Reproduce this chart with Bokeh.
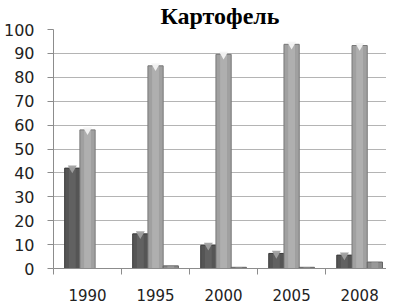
from bokeh.plotting import figure
from bokeh.models import Range1d, FixedTicker, ColumnDataSource
from bokeh.embed import file_html
from bokeh.resources import INLINE

title = "Картофель"
years = ["1990", "1995", "2000", "2005", "2008"]
series_a = [42, 14.5, 9.7, 6.3, 5.6]
series_b = [58, 84.8, 89.6, 93.8, 93.3]
series_c = [0, 1.1, 0.5, 0.5, 2.7]
y_ticks = [0, 10, 20, 30, 40, 50, 60, 70, 80, 90, 100]

idx = list(range(len(years)))
centers = [i + 0.5 for i in idx]
bw = 0.224
x_end = 4.895

p = figure(width=386, height=305, output_backend="svg", toolbar_location=None,
           x_range=Range1d(0, x_end), y_range=Range1d(0, 100),
           min_border_left=45, min_border_right=0, min_border_bottom=37, min_border_top=0)

p.title.text = title
p.title.text_font = "Liberation Serif"
p.title.text_font_style = "bold"
p.title.text_font_size = "24px"
p.title.text_color = "#000000"
p.title.align = "center"
p.title.offset = 0
p.title.standoff = 1
p.outline_line_color = None
p.background_fill_color = "white"
p.border_fill_color = "white"

series = [
    (series_a, -bw, "#555555", "#3a3a3a", "#6e6e6e", "#a0a0a0"),
    (series_b, 0.0, "#a0a0a0", "#787878", "#bdbdbd", "#f4f4f4"),
    (series_c, bw, "#8a8a8a", "#636363", "#a8a8a8", "#cfcfcf"),
]
for vals, off, fill, edge, light, cap in series:
    xs = [c + off for c in centers]
    src = ColumnDataSource(dict(x=xs, top=vals))
    p.vbar(x="x", top="top", width=bw, source=src, fill_color=fill, line_color=edge, line_width=1)
    p.vbar(x="x", top="top", width=bw * 0.45, source=src, fill_color=light, fill_alpha=0.5, line_color=None)
    caps = ColumnDataSource(dict(x=[x for x, v in zip(xs, vals) if v > 3],
                                 y=[v for v in vals if v > 3]))
    p.scatter(x="x", y="y", source=caps, marker="inverted_triangle", size=9,
              fill_color=cap, line_color=None, alpha=0.95)

# y axis
p.yaxis.ticker = FixedTicker(ticks=y_ticks)
p.yaxis.axis_line_color = "#8c8c8c"
p.yaxis.major_tick_line_color = "#8c8c8c"
p.yaxis.major_tick_out = 6
p.yaxis.major_tick_in = 0
p.yaxis.minor_tick_line_color = None
p.yaxis.major_label_text_font = "DejaVu Sans"
p.yaxis.major_label_text_font_size = "16px"
p.yaxis.major_label_text_color = "#222222"
p.yaxis.major_label_standoff = 13

# x axis
p.xaxis.ticker = FixedTicker(ticks=centers, minor_ticks=[0, 1, 2, 3, 4, 5])
p.xaxis.major_label_overrides = {c: y for c, y in zip(centers, years)}
p.xaxis.axis_line_color = "#8c8c8c"
p.xaxis.major_tick_line_color = None
p.xaxis.major_tick_out = 6
p.xaxis.major_tick_in = 0
p.xaxis.minor_tick_line_color = "#8c8c8c"
p.xaxis.minor_tick_out = 6
p.xaxis.minor_tick_in = 0
p.xaxis.major_label_text_font = "DejaVu Sans"
p.xaxis.major_label_text_font_size = "15px"
p.xaxis.major_label_text_color = "#222222"
p.xaxis.major_label_standoff = 14

p.xgrid.grid_line_color = None
p.ygrid.ticker = FixedTicker(ticks=y_ticks)
p.ygrid.grid_line_color = "#b4b4b4"
p.ygrid.grid_line_width = 1

open("out.html", "w").write(file_html(p, INLINE))
